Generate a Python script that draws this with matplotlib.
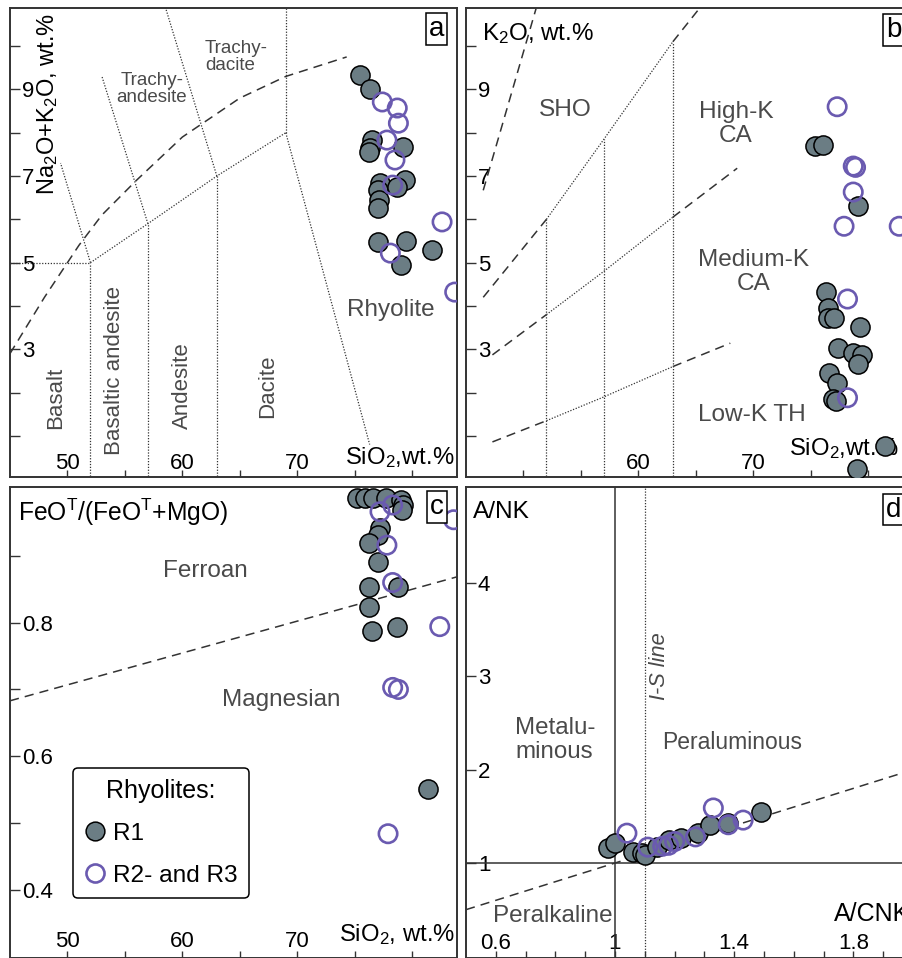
import matplotlib
matplotlib.use('Agg')
import matplotlib.pyplot as plt
from matplotlib import font_manager
from matplotlib.lines import Line2D

avail = {f.name for f in font_manager.fontManager.ttflist}
if 'Liberation Sans Narrow' in avail:
    FONT, SC = 'Liberation Sans Narrow', 1.2
else:
    FONT, SC = 'Liberation Sans', 1.0
plt.rcParams['font.family'] = [FONT, 'DejaVu Sans']
plt.rcParams['mathtext.fontset'] = 'custom'
plt.rcParams['mathtext.rm'] = FONT
plt.rcParams['mathtext.it'] = FONT + ':italic'
plt.rcParams['mathtext.default'] = 'regular'

# ---------------- data ----------------
# (a) TAS
tas_r1_sio2 = [75.5, 76.3, 76.5, 76.3, 76.2, 79.2, 77.2, 77.0, 77.1, 77.0, 79.4, 78.7, 77.0, 79.5, 79.0, 81.7]
tas_r1_alk = [9.33, 9.0, 7.83, 7.64, 7.55, 7.67, 6.84, 6.68, 6.44, 6.26, 6.9, 6.75, 5.47, 5.5, 4.94, 5.3]
tas_r23_sio2 = [77.4, 78.7, 78.8, 77.8, 78.5, 78.3, 82.6, 78.1, 83.7]
tas_r23_alk = [8.71, 8.57, 8.22, 7.83, 7.37, 6.79, 5.94, 5.22, 4.32]
# (b) K2O vs SiO2
k_r1_sio2 = [75.4, 76.1, 79.1, 76.3, 76.5, 76.5, 77.0, 79.3, 77.4, 78.7, 79.5, 79.1, 76.6, 77.3, 76.9, 77.2, 81.5, 79.0]
k_r1_k2o = [7.70, 7.72, 6.30, 4.33, 3.95, 3.72, 3.72, 3.51, 3.02, 2.91, 2.86, 2.67, 2.44, 2.23, 1.86, 1.81, 0.77, 0.23]
k_r23_sio2 = [77.3, 78.7, 78.9, 78.7, 77.9, 82.7, 78.2, 78.2]
k_r23_k2o = [8.60, 7.23, 7.20, 6.63, 5.84, 5.84, 4.16, 1.88]
# (c) FeOT/(FeOT+MgO) vs SiO2
fe_r1_sio2 = [75.2, 75.9, 76.6, 77.7, 79.0, 79.2, 79.1, 77.2, 77.0, 76.2, 77.0, 76.2, 78.8, 76.2, 76.5, 78.7, 81.4]
fe_r1_ratio = [0.987, 0.987, 0.987, 0.987, 0.984, 0.976, 0.969, 0.942, 0.931, 0.919, 0.890, 0.854, 0.854, 0.824, 0.787, 0.794, 0.551]
fe_r23_sio2 = [77.2, 78.3, 83.6, 77.8, 78.3, 82.4, 78.3, 78.8, 77.9]
fe_r23_ratio = [0.966, 0.976, 0.954, 0.916, 0.860, 0.794, 0.703, 0.700, 0.484]
# (d) A/NK vs A/CNK
asi_r1_acnk = [0.977, 1.0, 1.06, 1.09, 1.10, 1.14, 1.18, 1.22, 1.28, 1.32, 1.38, 1.49]
asi_r1_ank = [1.16, 1.21, 1.12, 1.11, 1.09, 1.17, 1.25, 1.27, 1.32, 1.41, 1.43, 1.55]
asi_r23_acnk = [1.04, 1.11, 1.16, 1.18, 1.20, 1.27, 1.33, 1.38, 1.43]
asi_r23_ank = [1.32, 1.17, 1.18, 1.19, 1.23, 1.28, 1.59, 1.41, 1.46]

# reference boundaries
tas_alk_curve_x = [45, 48, 51, 53, 56, 60, 65, 69, 74.3]
tas_alk_curve_y = [2.9, 4.2, 5.4, 6.1, 6.9, 7.9, 8.8, 9.3, 9.75]
k_sho_x = [46.5, 52, 57, 63, 65.4]
k_sho_y = [4.2, 6.0, 7.85, 10.1, 10.9]
k_hk_x = [47.3, 52, 57, 63, 68.6]
k_hk_y = [2.87, 3.8, 4.8, 6.05, 7.18]
k_lk_x = [47.3, 52, 57, 63, 68.0]
k_lk_y = [0.86, 1.35, 1.9, 2.6, 3.14]
k_left_x = [46.5, 51.1]
k_left_y = [6.67, 10.87]
fe_line_x = [45, 84]
fe_line_y = [0.683, 0.869]

FILL = '#6b7d84'
PURP = '#6a5ab0'
TXT = '#4a4a4a'
LC = '#333333'
DOT = (0, (1, 1.3))
DASH = (0, (6, 4))

W, H = 902, 958
fig = plt.figure(figsize=(W / 100, H / 100), dpi=100)


def fs(v):
    return v * SC


def axpos(l, t, r, b):
    return [l / W, 1 - b / H, (r - l) / W, (b - t) / H]


def style(ax, xt, xl, yt, yl, xpad=-2):
    ax.set_xticks(xt)
    ax.set_xticklabels(xl)
    ax.set_yticks(yt)
    ax.set_yticklabels(yl)
    ax.tick_params(axis='both', direction='in', width=1.0, labelsize=fs(16), color=LC)
    ax.tick_params(axis='y', length=7, pad=-8.5)
    ax.tick_params(axis='x', length=5, pad=xpad)
    for t in ax.get_yticklabels():
        t.set_ha('left')
    for t in ax.get_xticklabels():
        t.set_va('bottom')
    for s in ax.spines.values():
        s.set_linewidth(1.4)
        s.set_color(LC)


def points(ax, x1, y1, x2, y2):
    ax.scatter(x1, y1, s=190, facecolor=FILL, edgecolor='black', linewidth=1.1, zorder=5)
    ax.scatter(x2, y2, s=175, facecolor='none', edgecolor=PURP, linewidth=1.9, zorder=6)


def boxlabel(ax, letter, x, y):
    ax.text(x, y, letter, transform=ax.transAxes, ha='center', va='center', fontsize=fs(20),
            bbox=dict(boxstyle='square,pad=0.1', fc='white', ec='black', lw=1.1), zorder=10)


# ---------------- (a) TAS ----------------
axa = fig.add_axes(axpos(10, 8, 457, 477))
axa.set_xlim(45, 83.9)
axa.set_ylim(0.05, 10.88)
kw = dict(color=LC, lw=0.9, ls=DOT)
axa.plot([45, 52], [5, 5], **kw)
axa.plot([52, 52], [0, 5], **kw)
axa.plot([57, 57], [0, 5.9], **kw)
axa.plot([63, 63], [0, 7], **kw)
axa.plot([52, 57, 63, 69], [5, 5.9, 7, 8], **kw)
axa.plot([52, 49.4], [5, 7.3], **kw)
axa.plot([57, 53], [5.9, 9.3], **kw)
axa.plot([63, 57.6], [7, 11.7], **kw)
axa.plot([69, 69], [8, 12], **kw)
axa.plot([69, 76.3], [8, 0.8], **kw)
axa.plot(tas_alk_curve_x, tas_alk_curve_y, color=LC, lw=1.1, ls=DASH)
points(axa, tas_r1_sio2, tas_r1_alk, tas_r23_sio2, tas_r23_alk)
style(axa, [50, 55, 60, 65, 70, 75, 80], ['50', '', '60', '', '70', '', ''],
      list(range(1, 11)), ['', '', '3', '', '5', '', '7', '', '9', ''])
axa.text(0.083, 0.795, 'Na$_2$O+K$_2$O, wt.%', transform=axa.transAxes, rotation=90,
         ha='center', va='center', fontsize=fs(17))
axa.text(78.9, 0.49, 'SiO$_2$,wt.%', ha='center', va='center', fontsize=fs(17.2))
axa.text(57.35, 9.0, 'Trachy-\nandesite', ha='center', va='center', fontsize=fs(13.5), color=TXT, linespacing=1.0)
axa.text(61.96, 9.74, 'Trachy-\ndacite', ha='left', va='center', fontsize=fs(13.5), color=TXT, linespacing=1.0)
axa.text(78.13, 3.9, 'Rhyolite', ha='center', va='center', fontsize=fs(17.5), color=TXT)
for x, y, s in [(49.0, 1.87, 'Basalt'), (54.13, 2.52, 'Basaltic andesite'),
                (60.0, 2.17, 'Andesite'), (67.43, 2.15, 'Dacite')]:
    axa.text(x, y, s, rotation=90, ha='center', va='center', fontsize=fs(16), color=TXT)
boxlabel(axa, 'a', 0.955, 0.955)

# ---------------- (b) K2O ----------------
axb = fig.add_axes(axpos(466, 8, 913, 477))
axb.set_xlim(45, 83.9)
axb.set_ylim(0.05, 10.88)
axb.plot(k_left_x, k_left_y, color=LC, lw=1.1, ls=DASH)
for xs, ys in [(k_sho_x, k_sho_y), (k_hk_x, k_hk_y), (k_lk_x, k_lk_y)]:
    axb.plot(xs[:2], ys[:2], color=LC, lw=1.1, ls=DASH)
    axb.plot(xs[1:4], ys[1:4], color=LC, lw=0.9, ls=DOT)
    axb.plot(xs[3:], ys[3:], color=LC, lw=1.1, ls=DASH)
for i in (1, 2, 3):
    axb.plot([k_sho_x[i], k_sho_x[i]], [0, k_sho_y[i]], color=LC, lw=0.9, ls=DOT)
points(axb, k_r1_sio2, k_r1_k2o, k_r23_sio2, k_r23_k2o)
style(axb, [50, 55, 60, 65, 70, 75, 80], ['', '', '60', '', '70', '', ''],
      list(range(1, 11)), ['', '', '3', '', '5', '', '7', '', '9', ''])
axb.text(0.036, 0.945, 'K$_2$O, wt.%', transform=axb.transAxes, ha='left', va='center', fontsize=fs(17.4))
axb.text(77.9, 0.70, 'SiO$_2$,wt.%', ha='center', va='center', fontsize=fs(17.2), zorder=4)
axb.text(53.6, 8.52, 'SHO', ha='center', va='center', fontsize=fs(17.6), color=TXT)
axb.text(68.5, 8.2, 'High-K\nCA', ha='center', va='center', fontsize=fs(17.6), color=TXT, linespacing=1.1)
axb.text(70.0, 4.78, 'Medium-K\nCA', ha='center', va='center', fontsize=fs(17.6), color=TXT, linespacing=1.1)
axb.text(69.9, 1.48, 'Low-K TH', ha='center', va='center', fontsize=fs(17.6), color=TXT)
boxlabel(axb, 'b', 0.957, 0.953)

# ---------------- (c) Fe-number ----------------
axc = fig.add_axes(axpos(10, 487, 457, 958))
axc.set_xlim(45, 83.9)
axc.set_ylim(0.298, 1.003)
axc.plot(fe_line_x, fe_line_y, color=LC, lw=1.1, ls=DASH)
points(axc, fe_r1_sio2, fe_r1_ratio, fe_r23_sio2, fe_r23_ratio)
style(axc, [50, 55, 60, 65, 70, 75, 80], ['50', '', '60', '', '70', '', ''],
      [0.4, 0.5, 0.6, 0.7, 0.8, 0.9], ['0.4', '', '0.6', '', '0.8', ''], xpad=-4)
axc.text(0.018, 0.946, 'FeO$^T$/(FeO$^T$+MgO)', transform=axc.transAxes, ha='left', va='center', fontsize=fs(17.7))
axc.text(78.65, 0.333, 'SiO$_2$, wt.%', ha='center', va='center', fontsize=fs(17.2))
axc.text(62.0, 0.878, 'Ferroan', ha='center', va='center', fontsize=fs(17.5), color=TXT)
axc.text(68.57, 0.684, 'Magnesian', ha='center', va='center', fontsize=fs(17.5), color=TXT)
h1 = Line2D([], [], marker='o', ls='none', ms=13.5, mfc=FILL, mec='black', mew=1.1)
h2 = Line2D([], [], marker='o', ls='none', ms=13, mfc='none', mec=PURP, mew=1.9)
leg = axc.legend([h1, h2], ['R1', 'R2- and R3'], title='Rhyolites:', loc='upper left',
                 bbox_to_anchor=(0.141, 0.403), borderaxespad=0, fontsize=fs(17.6), title_fontsize=fs(18),
                 frameon=True, fancybox=True, edgecolor='black', framealpha=1,
                 handletextpad=0.3, handlelength=0.9, borderpad=0.45, labelspacing=0.8)
leg.get_frame().set_linewidth(1.1)
leg.get_title().set_linespacing(1.4)
boxlabel(axc, 'c', 0.955, 0.957)

# ---------------- (d) Shand ----------------
axd = fig.add_axes(axpos(466, 487, 913, 958))
axd.set_xlim(0.5, 2.0)
axd.set_ylim(-0.018, 5.03)
axd.axvline(1.0, color=LC, lw=1.1)
axd.axhline(1.0, color=LC, lw=1.1)
axd.axvline(1.1, color=LC, lw=0.9, ls=DOT)
axd.plot([0.5, 2.0], [0.5, 2.0], color=LC, lw=1.1, ls=DASH)
points(axd, asi_r1_acnk, asi_r1_ank, asi_r23_acnk, asi_r23_ank)
style(axd, [0.6, 0.7, 0.8, 0.9, 1.0, 1.1, 1.2, 1.3, 1.4, 1.5, 1.6, 1.7, 1.8, 1.9],
      ['0.6', '', '', '', '1', '', '', '', '1.4', '', '', '', '1.8', ''],
      [1, 2, 3, 4], ['1', '2', '3', '4'], xpad=-3)
axd.text(0.016, 0.946, 'A/NK', transform=axd.transAxes, ha='left', va='center', fontsize=fs(17.6))
axd.text(1.736, 0.454, 'A/CNK', ha='left', va='center', fontsize=fs(18))
axd.text(1.15, 3.11, 'I-S line', rotation=90, ha='center', va='center', fontsize=fs(15.7),
         style='italic', color=TXT)
axd.text(0.665, 2.32, 'Metalu-\nminous', ha='left', va='center', fontsize=fs(17.4), color=TXT, linespacing=1.1)
axd.text(1.392, 2.29, 'Peraluminous', ha='center', va='center', fontsize=fs(16.5), color=TXT)
axd.text(0.79, 0.433, 'Peralkaline', ha='center', va='center', fontsize=fs(17.5), color=TXT)
boxlabel(axd, 'd', 0.957, 0.952)

fig.savefig('out.png', dpi=100, facecolor='white')
